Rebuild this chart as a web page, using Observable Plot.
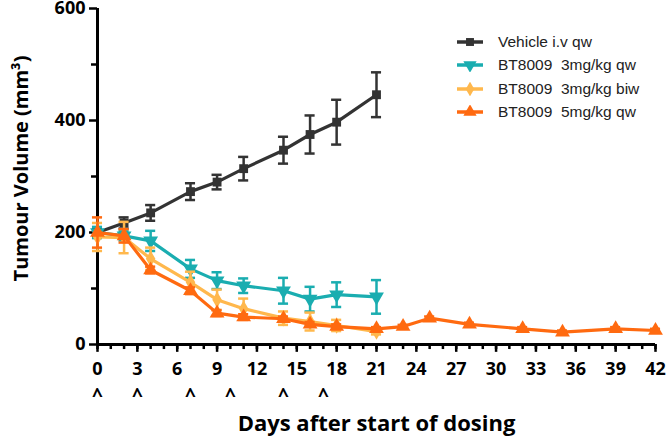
<!DOCTYPE html>
<html>
<head>
<meta charset="utf-8">
<script src="https://cdn.jsdelivr.net/npm/d3@7"></script>
<script src="https://cdn.jsdelivr.net/npm/@observablehq/plot@0.6"></script>
<style>
  body { margin: 0; background: #fff; }
  #wrap { position: relative; width: 666px; height: 440px; }
  #legend { position: absolute; left: 456px; top: 30px; font-family: "Liberation Sans", Arial, sans-serif; font-size: 15.5px; color: #222; }
  .item { display: flex; align-items: center; height: 23.5px; }
  .item svg { margin-right: 14px; }
</style>
</head>
<body>
<div id="wrap"><div id="legend"></div></div>
<script>
// ---- data ----
const days = [0, 2, 4, 7, 9, 11, 14, 16, 18, 21];
const days5 = [0, 2, 4, 7, 9, 11, 14, 16, 18, 21, 23, 25, 28, 32, 35, 39, 42];
const vehicleMean = [200, 217, 235, 273, 290, 314, 347, 375, 397, 446];
const vehicleSem  = [6, 10, 14, 15, 13, 21, 24, 34, 40, 40];
const qw3Mean = [200, 194, 185, 135, 114, 105, 96, 81, 89, 85];
const qw3Sem  = [10, 8, 18, 16, 15, 13, 23, 22, 22, 30];
const biw3Mean = [192, 191, 153, 111, 80, 64, 47, 41, 34, 23];
const biw3Sem  = [25, 28, 20, 19, 18, 18, 12, 16, 10, 5];
const qw5Mean = [200, 194, 133, 96, 56, 49, 46, 36, 32, 28, 32, 47, 36, 28, 22, 28, 25];
const qw5Sem  = [27, 12, 6, 6, 5, 5, 4, 4, 4, 3, 3, 3, 3, 3, 3, 3, 3];
const seriesNames = ["Vehicle i.v qw", "BT8009  3mg/kg qw", "BT8009  3mg/kg biw", "BT8009  5mg/kg qw"];
const seriesColors = ["#333333", "#1aadb0", "#ffb84d", "#ff6a10"];
const xTickLabels = [0, 3, 6, 9, 12, 15, 18, 21, 24, 27, 30, 33, 36, 39, 42];
const xMinorTicks = d3.range(0, 43, 1);
const yTickLabels = [0, 200, 400, 600];
const yMinorTicks = [100, 300, 500];
const dosingDays = [0, 3, 7, 10, 14, 17];

// custom inverted triangle symbol
const sqrt3 = Math.sqrt(3);
const triangleDown = {
  draw(context, size) {
    const y = -Math.sqrt(size / (sqrt3 * 3));
    context.moveTo(0, -y * 2);
    context.lineTo(-sqrt3 * y, y);
    context.lineTo(sqrt3 * y, y);
    context.closePath();
  }
};
const seriesSymbols = [d3.symbolSquare, triangleDown, d3.symbolDiamond, d3.symbolTriangle];
const seriesR = [5, 5.5, 5, 5.5];

const series = [
  {days: days, mean: vehicleMean, sem: vehicleSem},
  {days: days, mean: qw3Mean, sem: qw3Sem},
  {days: days, mean: biw3Mean, sem: biw3Sem},
  {days: days5, mean: qw5Mean, sem: qw5Sem}
].map((s, i) => ({
  name: seriesNames[i], color: seriesColors[i], symbol: seriesSymbols[i], r: seriesR[i],
  rows: s.days.map((d, j) => ({day: d, mean: s.mean[j], sem: s.sem[j]}))
}));

const capHalf = 0.38;
const marks = [];
for (const s of series) {
  marks.push(
    Plot.ruleX(s.rows, {x: "day", y1: d => d.mean - d.sem, y2: d => d.mean + d.sem, stroke: s.color, strokeWidth: 2.5}),
    Plot.ruleY(s.rows, {y: d => d.mean + d.sem, x1: d => d.day - capHalf, x2: d => d.day + capHalf, stroke: s.color, strokeWidth: 2.5}),
    Plot.ruleY(s.rows, {y: d => d.mean - d.sem, x1: d => d.day - capHalf, x2: d => d.day + capHalf, stroke: s.color, strokeWidth: 2.5}),
    Plot.line(s.rows, {x: "day", y: "mean", stroke: s.color, strokeWidth: 3.2}),
    Plot.dot(s.rows, {x: "day", y: "mean", symbol: s.symbol, fill: s.color, r: s.r, stroke: "none"})
  );
}

// tick lengths expressed in data units of each scale
const xMinorLen = 9, xMajorLen = 14;     // y units
const yMinorLen = 0.45, yMajorLen = 0.6; // x units (days)

const chart = Plot.plot({
  width: 666,
  height: 440,
  marginLeft: 97,
  marginRight: 11,
  marginTop: 8,
  marginBottom: 96,
  style: {fontFamily: "'Open Sans', sans-serif", fontWeight: "bold", color: "#000", background: "#fff"},
  x: {domain: [0, 42], axis: null},
  y: {domain: [0, 600], axis: null},
  marks: [
    // tick marks
    Plot.ruleX(xMinorTicks, {x: d => d, y1: 0, y2: -xMinorLen, stroke: "#000", strokeWidth: 2.5}),
    Plot.ruleX(xTickLabels, {x: d => d, y1: 0, y2: -xMajorLen, stroke: "#000", strokeWidth: 2.5}),
    Plot.ruleY(yMinorTicks, {y: d => d, x1: 0, x2: -yMinorLen, stroke: "#000", strokeWidth: 2.5}),
    Plot.ruleY(yTickLabels, {y: d => d, x1: 0, x2: -yMajorLen, stroke: "#000", strokeWidth: 2.5}),
    // tick labels
    Plot.axisX({ticks: xTickLabels, tickSize: 0, tickPadding: 18, tickFormat: d => String(d), fontSize: 18, fontWeight: "bold", fill: "#000", label: null}),
    Plot.axisY({ticks: yTickLabels, tickSize: 0, tickPadding: 12, tickFormat: d => String(d), fontSize: 18, fontWeight: "bold", fill: "#000", label: null}),
    // axis lines
    Plot.ruleY([0], {stroke: "#000", strokeWidth: 3}),
    Plot.ruleX([0], {stroke: "#000", strokeWidth: 3}),
    ...marks,
    Plot.text(dosingDays, {x: d => d, text: () => "^", frameAnchor: "bottom", dy: 57, fontSize: 19, fontWeight: "bold", fill: "#000"}),
    Plot.text(["Days after start of dosing"], {frameAnchor: "bottom", dy: 86, fontSize: 22, fontWeight: "bold", fill: "#000"}),
    Plot.text(["Tumour Volume (mm³)"], {frameAnchor: "left", textAnchor: "middle", dx: -76, dy: -8, rotate: -90, fontSize: 20, fontWeight: "bold", fill: "#000"})
  ]
});
document.getElementById("wrap").prepend(chart);

// legend
const legend = document.getElementById("legend");
for (const s of series) {
  const item = document.createElement("div");
  item.className = "item";
  const svg = d3.create("svg").attr("width", 28).attr("height", 14);
  svg.append("line").attr("x1", 1).attr("x2", 27).attr("y1", 7).attr("y2", 7).attr("stroke", s.color).attr("stroke-width", 3.5);
  svg.append("path").attr("transform", "translate(14,7)")
    .attr("d", d3.symbol(s.symbol, Math.PI * s.r * s.r * 0.8)()).attr("fill", s.color);
  item.appendChild(svg.node());
  const span = document.createElement("span");
  span.textContent = s.name;
  span.style.whiteSpace = "pre";
  item.appendChild(span);
  legend.appendChild(item);
}
</script>
</body>
</html>
